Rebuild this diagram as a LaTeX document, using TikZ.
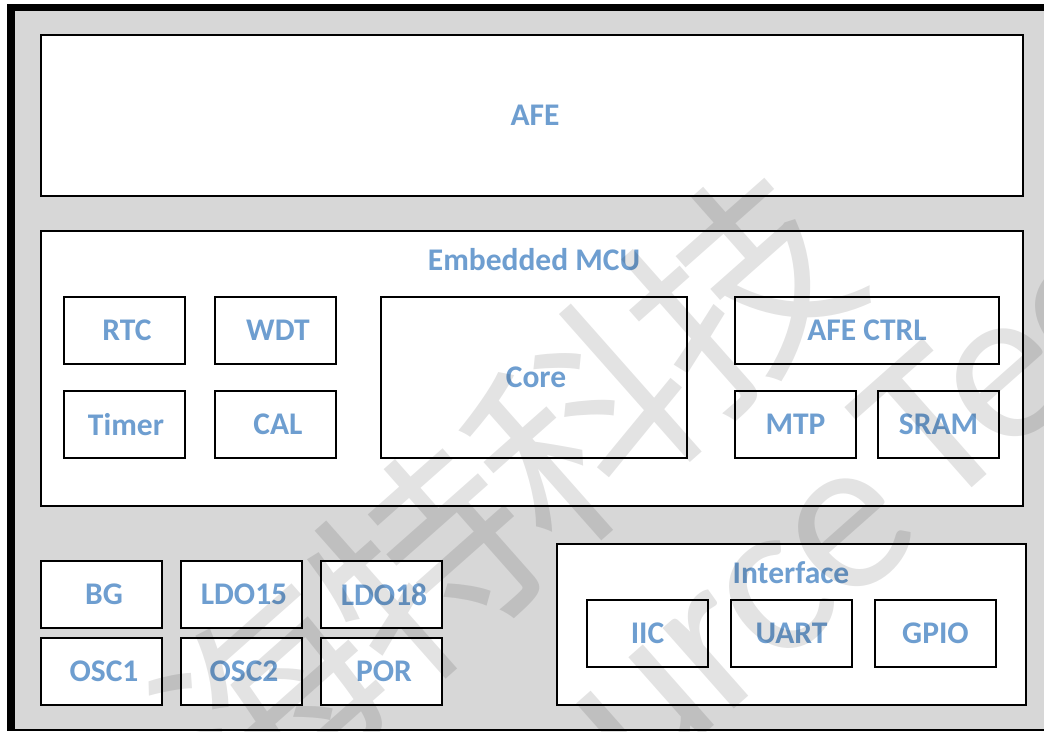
\documentclass[tikz,border=0pt]{standalone}
\usepackage{fontspec}
\setmainfont{Carlito}
\newfontfamily\cjkwm[LetterSpace=-3]{Noto Sans CJK SC}
\newfontfamily\wmlatin[LetterSpace=-2]{Carlito}
\definecolor{panel}{HTML}{D7D7D7}
\definecolor{labelblue}{HTML}{6E9ED0}
\tikzset{
  box/.style={draw=black,line width=2pt,fill=white,inner sep=0pt,text=labelblue,font=\fontsize{31.5}{33}\selectfont\bfseries},
  title/.style={inner sep=0pt,text=labelblue,font=\fontsize{31.5}{33}\selectfont\bfseries},
  small/.style={box,minimum width=121pt,minimum height=67pt},
  wmark/.style={inner sep=0pt,text=black,text opacity=0.11,rotate=41.5}
}
\begin{document}
\begin{tikzpicture}[x=1pt,y=-1pt]
\useasboundingbox (0,0) rectangle (1044,731);
\clip (0,0) rectangle (1044,731);
\fill[white] (0,0) rectangle (1044,731);
\fill[black] (7,4) rectangle (1044,731);
\fill[panel] (15,11) rectangle (1044,729);
% top
\node[box,minimum width=982pt,minimum height=161pt] (afebox) at (532,115) {};
\node[title] (afe) at (535,115) {AFE};
% MCU
\node[box,minimum width=982pt,minimum height=275pt] (mcubox) at (532,368.5) {};
\node[title] (mcu) at (534,260) {Embedded MCU};
\node[small] (rtc) at (124.5,330.5) {\hspace{5pt}RTC};
\node[small] (wdt) at (275.5,330.5) {\hspace{5pt}WDT};
\node[small] (timer) at (124.5,424.5) {\hspace{3pt}Timer};
\node[small] (cal) at (275.5,424.5) {\hspace{5pt}CAL};
\node[box,minimum width=306pt,minimum height=161pt] (core) at (534,377.5) {\hspace{4pt}Core};
\node[box,minimum width=264pt,minimum height=67pt] (afectrl) at (867,330.5) {AFE CTRL};
\node[small] (mtp) at (795.5,424.5) {MTP};
\node[small] (sram) at (938.5,424.5) {SRAM};
% power
\node[small] (bg) at (101.5,594.5) {\hspace{5pt}BG};
\node[small] (ldo15) at (241.5,594.5) {\hspace{5pt}LDO15};
\node[small] (ldo18) at (381.5,594.5) {\hspace{5pt}LDO18};
\node[small] (osc1) at (101.5,671.5) {\hspace{5pt}OSC1};
\node[small] (osc2) at (241.5,671.5) {\hspace{5pt}OSC2};
\node[small] (por) at (381.5,671.5) {\hspace{5pt}POR};
% interface
\node[box,minimum width=469pt,minimum height=161pt] (ifbox) at (791.5,624.5) {};
\node[title] (iftitle) at (791,573) {Interface};
\node[small] (iic) at (647.5,633.5) {IIC};
\node[small] (uart) at (791.5,633.5) {UART};
\node[small] (gpio) at (935.5,633.5) {GPIO};
% watermark
\node[wmark,font=\fontsize{215}{220}\selectfont\cjkwm] (wm1) at (505,495) {海特科技};
\node[wmark,font=\fontsize{225}{230}\selectfont\wmlatin,anchor=base east] (wm2) at (928,537) {Source};
\node[wmark,font=\fontsize{225}{230}\selectfont\wmlatin,anchor=base west] (wm3) at (938,518) {Technology};
\end{tikzpicture}
\end{document}
